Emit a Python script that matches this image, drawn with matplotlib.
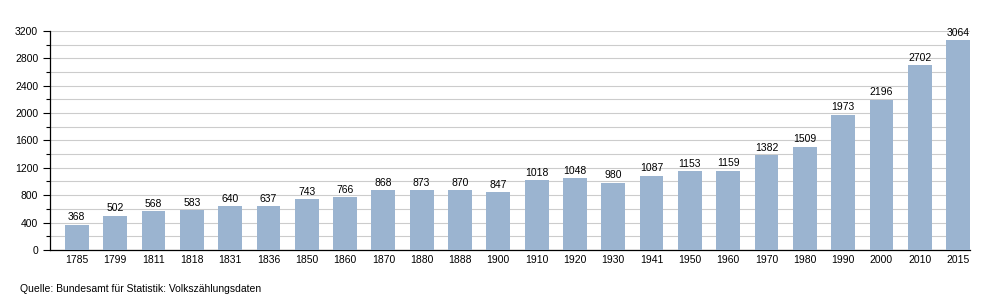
import matplotlib
matplotlib.use("Agg")
import matplotlib.pyplot as plt
from matplotlib.ticker import MultipleLocator

years = ["1785", "1799", "1811", "1818", "1831", "1836", "1850", "1860", "1870", "1880",
         "1888", "1900", "1910", "1920", "1930", "1941", "1950", "1960", "1970", "1980",
         "1990", "2000", "2010", "2015"]
population = [368, 502, 568, 583, 640, 637, 743, 766, 868, 873, 870, 847, 1018, 1048,
              980, 1087, 1153, 1159, 1382, 1509, 1973, 2196, 2702, 3064]
source_text = "Quelle: Bundesamt für Statistik: Volkszählungsdaten"

plt.rcParams['font.family'] = ['Liberation Sans', 'DejaVu Sans']
fig = plt.figure(figsize=(10, 3), dpi=100)
ax = fig.add_axes([0.05, 0.167, 0.92, 0.73])

x = list(range(len(years)))
bars = ax.bar(x, population, width=0.62, color="#9bb4d0", zorder=3)
for xi, v in zip(x, population):
    ax.text(xi, v + 35, str(v), ha="center", va="bottom", fontsize=7.5, color="#000000", zorder=4)

ax.set_xlim(-0.7, 23.31)
ax.set_ylim(0, 3200)
ax.yaxis.set_major_locator(MultipleLocator(400))
ax.yaxis.set_minor_locator(MultipleLocator(200))
ax.grid(axis="y", which="both", color="#cccccc", linewidth=0.8, zorder=0)
ax.set_xticks(x)
ax.set_xticklabels(years)
ax.tick_params(axis="x", length=0, labelsize=7.5, pad=4)
ax.tick_params(axis="y", which="major", length=5, width=0.8, labelsize=7.5, direction="out")
ax.tick_params(axis="y", which="minor", length=3, width=0.8, direction="out")
for s in ["top", "right"]:
    ax.spines[s].set_visible(False)
ax.spines["left"].set_linewidth(0.9)
ax.spines["bottom"].set_linewidth(0.9)

fig.text(0.02, 0.037, source_text, fontsize=7.5, ha="left", va="center")
fig.savefig("out.png", dpi=100)
